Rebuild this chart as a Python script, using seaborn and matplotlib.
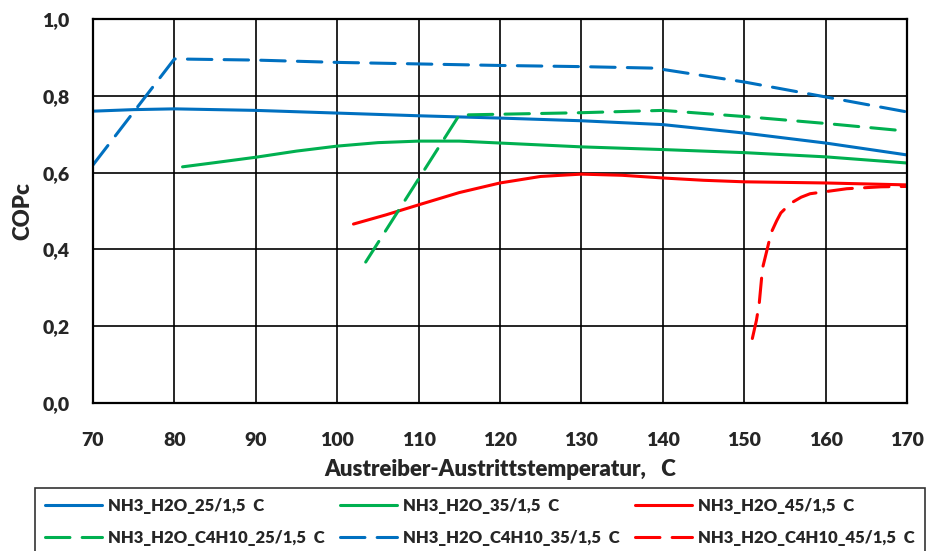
import matplotlib
matplotlib.use("Agg")
import matplotlib.pyplot as plt
import seaborn as sns
import pandas as pd

# ---- data ----
x_25 = [70, 75, 80, 90, 100, 110, 120, 130, 140, 150, 160, 170]
y_25 = [0.760, 0.764, 0.766, 0.762, 0.755, 0.748, 0.742, 0.735, 0.725, 0.703, 0.677, 0.646]

x_35 = [81, 85, 90, 95, 100, 105, 110, 115, 120, 130, 140, 150, 160, 170]
y_35 = [0.615, 0.626, 0.640, 0.656, 0.669, 0.678, 0.682, 0.682, 0.677, 0.667, 0.660, 0.652, 0.641, 0.625]

x_45 = [102, 106, 110, 115, 120, 125, 130, 135, 140, 145, 150, 160, 170]
y_45 = [0.466, 0.490, 0.516, 0.548, 0.573, 0.590, 0.596, 0.593, 0.586, 0.580, 0.576, 0.573, 0.568]

x_c25 = [103.5, 115, 120, 130, 140, 150, 160, 170]
y_c25 = [0.367, 0.750, 0.752, 0.756, 0.762, 0.746, 0.728, 0.708]

x_c35 = [70, 80, 90, 100, 110, 120, 130, 139, 150, 160, 170]
y_c35 = [0.620, 0.896, 0.893, 0.887, 0.883, 0.879, 0.876, 0.872, 0.836, 0.797, 0.758]

x_c45 = [151.0, 151.5, 151.85, 152.25, 152.9, 153.3, 154.0, 154.5, 155.7, 157.0, 158.1, 160.2, 162.6, 166.8, 170]
y_c45 = [0.168, 0.215, 0.260, 0.351, 0.407, 0.443, 0.475, 0.495, 0.520, 0.536, 0.545, 0.551, 0.558, 0.563, 0.564]

labels = ["NH3_H2O_25/1,5  C", "NH3_H2O_35/1,5  C", "NH3_H2O_45/1,5  C",
          "NH3_H2O_C4H10_25/1,5  C", "NH3_H2O_C4H10_35/1,5  C", "NH3_H2O_C4H10_45/1,5  C"]
x_ticks = [70, 80, 90, 100, 110, 120, 130, 140, 150, 160, 170]
y_ticks = [0.0, 0.2, 0.4, 0.6, 0.8, 1.0]
y_ticklabels = ["0,0", "0,2", "0,4", "0,6", "0,8", "1,0"]

BLUE, GREEN, RED = "#0070C0", "#00B050", "#FF0000"
W = "heavy"

sns.set_theme(style="white")
plt.rcParams["font.family"] = ["Lato", "DejaVu Sans"]
plt.rcParams["font.weight"] = W

fig = plt.figure(figsize=(9.28, 5.51), dpi=100)
ax = fig.add_axes([93 / 928, 1 - 403 / 551, (907 - 93) / 928, (403 - 19) / 551])

series = [
    (x_25, y_25, labels[0], BLUE, False),
    (x_35, y_35, labels[1], GREEN, False),
    (x_45, y_45, labels[2], RED, False),
    (x_c25, y_c25, labels[3], GREEN, True),
    (x_c35, y_c35, labels[4], BLUE, True),
    (x_c45, y_c45, labels[5], RED, True),
]
handles = {}
for xs, ys, lab, col, dashed in series:
    df = pd.DataFrame({"x": xs, "y": ys})
    sns.lineplot(data=df, x="x", y="y", ax=ax, color=col, lw=2.2, sort=False,
                 label=lab, estimator=None)
    line = ax.get_lines()[-1]
    if dashed:
        line.set_dashes((8, 4))
    line.set_solid_capstyle("round")
    line.set_dash_capstyle("round")
    line.set_solid_joinstyle("round")
    handles[lab] = line

ax.set_xlim(70, 170)
ax.set_ylim(0, 1.0)
ax.set_xticks(x_ticks)
ax.set_yticks(y_ticks)
ax.set_yticklabels(y_ticklabels)
ax.grid(True, color="black", lw=1.2)
for s in ax.spines.values():
    s.set_color("black")
    s.set_linewidth(1.6)
ax.tick_params(axis="both", direction="out", length=7, width=1.2, color="black",
               labelsize=14, pad=10)
ax.tick_params(axis="x", pad=14)
for t in ax.get_xticklabels() + ax.get_yticklabels():
    t.set_fontweight(W)
ax.set_xlabel("Austreiber-Austrittstemperatur,   C", fontsize=16, fontweight=W, labelpad=7)
ax.set_ylabel("COPc", fontsize=16, fontweight=W, labelpad=6)

ax.get_legend().remove()
order = [labels[0], labels[3], labels[1], labels[4], labels[2], labels[5]]
leg = fig.legend([handles[l] for l in order], order, ncol=3, loc="upper left",
                 bbox_to_anchor=(35 / 928, 1 - 488 / 551, 890 / 928, 0),
                 mode="expand", frameon=True, fancybox=False, edgecolor="black",
                 borderaxespad=0,
                 prop={"weight": W, "size": 12}, handlelength=3.4, handletextpad=0.4,
                 borderpad=0.6, labelspacing=0.95, columnspacing=0.5)
leg.get_frame().set_linewidth(1.2)

fig.savefig("out.png", dpi=100)
